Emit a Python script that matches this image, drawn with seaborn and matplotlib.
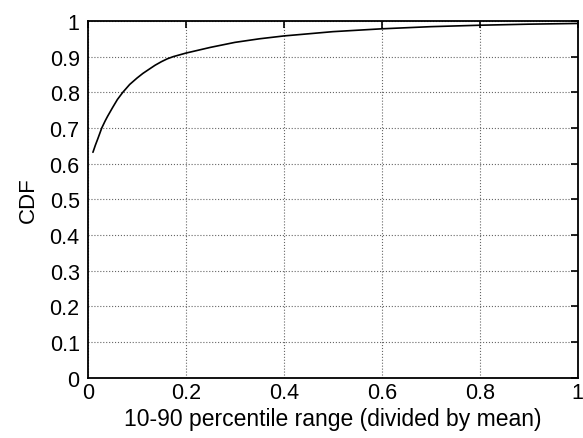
import matplotlib
matplotlib.use("Agg")
import matplotlib.pyplot as plt
import seaborn as sns
import pandas as pd

# values
range_vals = [0.01, 0.015, 0.02, 0.028, 0.035, 0.04, 0.05, 0.06, 0.071, 0.085, 0.1, 0.112,
              0.125, 0.137, 0.15, 0.162, 0.174, 0.187, 0.2, 0.225, 0.25, 0.275, 0.3, 0.35,
              0.4, 0.45, 0.5, 0.55, 0.6, 0.7, 0.8, 0.9, 1.0]
cdf_vals = [0.632, 0.652, 0.67, 0.70, 0.72, 0.733, 0.757, 0.78, 0.80, 0.822, 0.84, 0.853,
            0.865, 0.876, 0.886, 0.894, 0.90, 0.905, 0.91, 0.918, 0.926, 0.933, 0.94, 0.95,
            0.958, 0.964, 0.97, 0.974, 0.978, 0.984, 0.988, 0.991, 0.993]
x_ticks = [0, 0.2, 0.4, 0.6, 0.8, 1]
x_tick_labels = ["0", "0.2", "0.4", "0.6", "0.8", "1"]
y_ticks = [0, 0.1, 0.2, 0.3, 0.4, 0.5, 0.6, 0.7, 0.8, 0.9, 1]
y_tick_labels = ["0", "0.1", "0.2", "0.3", "0.4", "0.5", "0.6", "0.7", "0.8", "0.9", "1"]

sns.set_style("white")
plt.rcParams["font.family"] = ["Liberation Sans", "DejaVu Sans"]
plt.rcParams["axes.labelcolor"] = "black"

df = pd.DataFrame({"x": range_vals, "cdf": cdf_vals})

fig = plt.figure(figsize=(5.83, 4.39), dpi=100)
ax = fig.add_axes([0.151, 0.137, 0.84, 0.813])
sns.lineplot(data=df, x="x", y="cdf", ax=ax, color="black", linewidth=1.2)

ax.set_xlim(0, 1)
ax.set_ylim(0, 1)
ax.set_xticks(x_ticks)
ax.set_xticklabels(x_tick_labels)
ax.set_yticks(y_ticks)
ax.set_yticklabels(y_tick_labels)
ax.grid(True, linestyle=":", color="#666666", linewidth=0.8)
ax.tick_params(direction="in", length=5, width=1.2, top=True, right=True,
               labelsize=15.5, colors="black")
ax.tick_params(axis="x", pad=3)
ax.tick_params(axis="y", pad=6)
for s in ax.spines.values():
    s.set_linewidth(1.3)
    s.set_color("black")
ax.set_xlabel("10-90 percentile range (divided by mean)", fontsize=16.5, labelpad=3)
ax.set_ylabel("CDF", fontsize=16, labelpad=8)

fig.savefig("out.png", dpi=100)
